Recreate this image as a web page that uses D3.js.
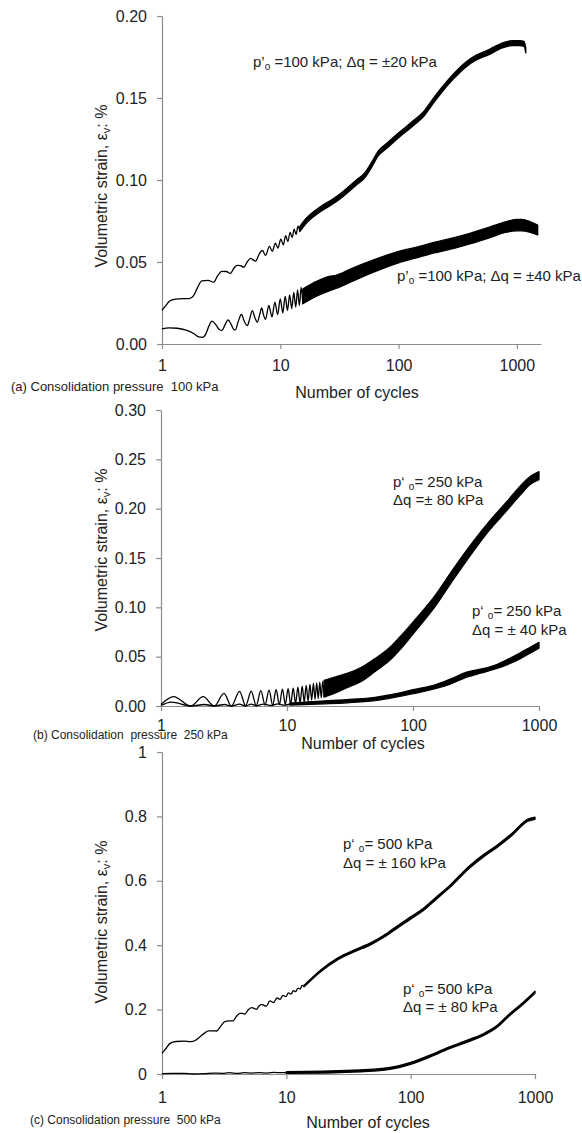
<!DOCTYPE html>
<html>
<head>
<meta charset="utf-8">
<script src="https://cdnjs.cloudflare.com/ajax/libs/d3/7.8.5/d3.min.js"></script>
<style>
  body { margin: 0; background: #fff; }
  svg { display: block; font-family: "Liberation Sans", Arial, sans-serif; }
</style>
</head>
<body>
<svg width="582" height="1133"></svg>
<script>
(function () {

  // ---- tick values and labels ----
  var xTicks = [1, 10, 100, 1000]
  var yTicksA = [0, 0.05, 0.10, 0.15, 0.20]
  var yLabelsA = ['0.00', '0.05', '0.10', '0.15', '0.20']
  var yTicksB = [0, 0.05, 0.10, 0.15, 0.20, 0.25, 0.30]
  var yLabelsB = ['0.00', '0.05', '0.10', '0.15', '0.20', '0.25', '0.30']
  var yTicksC = [0, 0.2, 0.4, 0.6, 0.8, 1]
  var yLabelsC = ['0', '0.2', '0.4', '0.6', '0.8', '1']

  // ---- (a) 100 kPa ----
  // early cycles: [N, strain %]; later the trace is a dense band: [N, low, high]
  var a20Line = [
    [1, 0.0205], [1.08, 0.0235], [1.16, 0.0262], [1.3, 0.0274], [1.5, 0.0277], [1.7, 0.0277],
    [1.85, 0.0295], [2.0, 0.0345], [2.17, 0.0385], [2.45, 0.0388], [2.73, 0.0377], [2.95, 0.0415],
    [3.2, 0.0443], [3.5, 0.0442], [3.78, 0.0430], [4.05, 0.0462], [4.32, 0.0480], [4.6, 0.0478],
    [4.92, 0.0468], [5.25, 0.0500], [5.6, 0.0522], [5.9, 0.0513], [6.2, 0.0505], [6.6, 0.0545],
    [7.07, 0.0570], [7.5, 0.0540], [8.1, 0.0595], [8.55, 0.0565], [9.1, 0.0615], [9.55, 0.0585],
    [10.1, 0.0640], [10.6, 0.0605], [11.1, 0.0660], [11.6, 0.0625], [12.1, 0.0680], [12.6, 0.0650],
    [13.1, 0.0700], [13.6, 0.0668], [14.1, 0.0718], [14.6, 0.0690]
  ]
  var a20Band = [
    [14.6, 0.0685, 0.0715], [16.5, 0.0735, 0.0765], [21.6, 0.0805, 0.0835],
    [28, 0.0855, 0.0885], [34, 0.090, 0.093], [44, 0.097, 0.100], [52, 0.1015, 0.1045],
    [60, 0.1085, 0.1115], [67, 0.1145, 0.1175], [80, 0.1195, 0.1225], [99, 0.1255, 0.1285],
    [130, 0.1325, 0.1355], [166, 0.1395, 0.1425], [200, 0.1475, 0.1505], [232, 0.1535, 0.1565],
    [290, 0.1615, 0.1645], [365, 0.1685, 0.1715], [450, 0.173, 0.176], [581, 0.1765, 0.1795],
    [750, 0.1805, 0.1835], [913, 0.182, 0.185], [1050, 0.182, 0.185], [1150, 0.1815, 0.1845],
    [1190, 0.1775, 0.1805]
  ]
  var a40Line = [
    [1, 0.0092], [1.15, 0.0098], [1.35, 0.0096], [1.6, 0.0084], [1.85, 0.0064], [2.05, 0.0043],
    [2.2, 0.0041], [2.35, 0.0062], [2.5, 0.0112], [2.64, 0.0139], [2.85, 0.0118], [3.05, 0.0088],
    [3.21, 0.0082], [3.4, 0.0115], [3.62, 0.0147], [3.85, 0.0118], [4.05, 0.0088], [4.17, 0.0086],
    [4.4, 0.0135], [4.7, 0.0180], [4.95, 0.0140], [5.26, 0.0112], [5.5, 0.0150], [5.8, 0.0204],
    [6.1, 0.0160], [6.4, 0.0133], [6.7, 0.0180], [6.97, 0.0220], [7.2, 0.0180], [7.5, 0.0150],
    [8.0, 0.0235], [8.5, 0.0165], [9.0, 0.0255], [9.5, 0.0180], [10, 0.0275], [10.5, 0.0190],
    [11, 0.0290], [11.5, 0.0205], [12, 0.0300], [12.5, 0.0215], [13, 0.0315], [13.5, 0.0225],
    [14, 0.0330], [14.5, 0.0235], [15, 0.0345], [15.5, 0.0245]
  ]
  var a40Band = [
    [15.5, 0.0245, 0.0335], [20, 0.029, 0.038], [25, 0.032, 0.041],
    [30, 0.034, 0.042], [40, 0.038, 0.046], [60, 0.0435, 0.051], [100, 0.0495, 0.0565],
    [150, 0.053, 0.0595], [200, 0.0555, 0.062], [300, 0.0585, 0.065], [400, 0.061, 0.0675],
    [600, 0.065, 0.0715], [800, 0.068, 0.0745], [1000, 0.069, 0.076], [1100, 0.069, 0.076],
    [1300, 0.068, 0.0745], [1500, 0.0665, 0.0725]
  ]

  // ---- (b) 250 kPa ----
  var b80Line = [
    [1, 0.0015], [1.26, 0.0095], [1.72, 0.0], [2.16, 0.0095], [2.65, 0.0], [3.16, 0.0128],
    [3.62, 0.0], [4.2, 0.0148], [4.7, 0.0003], [5.2, 0.0150], [5.7, 0.0005], [6.2, 0.0155],
    [6.7, 0.0008], [7.2, 0.0160], [7.7, 0.0010], [8.2, 0.0165], [8.7, 0.0012], [9.2, 0.0170],
    [9.7, 0.0015], [10.2, 0.0175], [10.7, 0.0020], [11.2, 0.0180], [11.7, 0.0025], [12.2, 0.0190],
    [12.7, 0.0030], [13.2, 0.0200], [13.7, 0.0040], [14.2, 0.0210], [14.7, 0.0050], [15.2, 0.0220],
    [15.7, 0.0060], [16.2, 0.0228], [16.7, 0.0068], [17.2, 0.0235], [17.7, 0.0075], [18.2, 0.0242],
    [18.7, 0.0082], [19.2, 0.0250], [19.7, 0.0090]
  ]
  var b80Band = [
    [19.7, 0.009, 0.026], [25, 0.014, 0.030], [30, 0.0185, 0.033],
    [40, 0.026, 0.040], [50, 0.035, 0.048], [65, 0.046, 0.059], [80, 0.058, 0.071],
    [100, 0.073, 0.085], [150, 0.101, 0.112], [200, 0.1245, 0.1355], [300, 0.1565, 0.1665],
    [400, 0.1775, 0.1865], [550, 0.1975, 0.2065], [700, 0.213, 0.222], [850, 0.2245, 0.2325],
    [1000, 0.2295, 0.2375]
  ]
  var b40Line = [
    [1, 0.0005], [1.2, 0.0040], [1.75, 0.0], [2.2, 0.0015], [2.65, 0.0], [3.2, 0.0015],
    [3.62, 0.0], [4.2, 0.0018], [4.7, 0.0], [5.2, 0.0020], [5.7, 0.0002], [6.5, 0.0020],
    [7.5, 0.0005], [8.5, 0.0022], [9.5, 0.0008], [10.5, 0.0020]
  ]
  var b40Band = [
    [10.5, 0.001, 0.003], [20, 0.0022, 0.0052], [30, 0.0032, 0.0065], [50, 0.0055, 0.0088],
    [70, 0.0085, 0.012], [100, 0.0125, 0.0165], [150, 0.0175, 0.0215], [200, 0.0225, 0.0275],
    [270, 0.0295, 0.0345], [350, 0.0335, 0.0375], [450, 0.0375, 0.0415], [550, 0.0415, 0.0465],
    [700, 0.0475, 0.0535], [850, 0.0535, 0.0595], [1000, 0.0585, 0.0645]
  ]

  // ---- (c) 500 kPa ----
  var c160Line = [
    [1, 0.064], [1.08, 0.080], [1.16, 0.095], [1.3, 0.101], [1.5, 0.102], [1.7, 0.1005],
    [1.85, 0.104], [2.0, 0.114], [2.2, 0.127], [2.36, 0.134], [2.55, 0.134], [2.75, 0.1335],
    [2.95, 0.147], [3.2, 0.163], [3.45, 0.165], [3.74, 0.165], [3.95, 0.178], [4.23, 0.188],
    [4.45, 0.188], [4.64, 0.186], [4.9, 0.198], [5.25, 0.206], [5.5, 0.204], [5.76, 0.201],
    [6.0, 0.210], [6.31, 0.2165], [6.6, 0.213], [6.9, 0.211], [7.37, 0.227], [7.9, 0.222],
    [8.4, 0.236], [8.9, 0.232], [9.4, 0.244], [9.9, 0.240], [10.4, 0.252], [10.9, 0.248],
    [11.4, 0.259], [11.9, 0.256], [12.4, 0.267], [12.9, 0.264], [13.4, 0.275], [13.9, 0.272]
  ]
  var c160Band = [
    [13.9, 0.2705, 0.2755], [19, 0.318, 0.324], [26, 0.355, 0.361],
    [35, 0.379, 0.385], [48, 0.402, 0.408], [60, 0.423, 0.429], [80, 0.456, 0.463],
    [100, 0.481, 0.488], [125, 0.506, 0.513], [160, 0.542, 0.549], [205, 0.578, 0.585],
    [298, 0.640, 0.647], [400, 0.679, 0.686], [489, 0.702, 0.709], [650, 0.740, 0.747],
    [876, 0.785, 0.792], [1000, 0.791, 0.798]
  ]
  var c80Line = [
    [1, 0.001], [1.2, 0.002], [1.5, 0.002], [1.8, 0.0], [2.2, 0.001], [2.6, 0.003], [3, 0.002],
    [3.5, 0.004], [4, 0.002], [4.6, 0.004], [5.2, 0.003], [6, 0.004], [7, 0.003], [8, 0.005],
    [9, 0.004], [10, 0.0045]
  ]
  var c80Band = [
    [10, 0.002, 0.007], [20, 0.003, 0.009], [30, 0.005, 0.011], [40, 0.007, 0.013],
    [50, 0.009, 0.015], [70, 0.015, 0.021], [100, 0.030, 0.036], [150, 0.056, 0.062],
    [200, 0.077, 0.083], [300, 0.102, 0.108], [400, 0.123, 0.129], [500, 0.146, 0.152],
    [600, 0.175, 0.181], [800, 0.216, 0.222], [1000, 0.251, 0.257]
  ]

  // layout of the three stacked panels
  var panels = [
    {
      top: 16, bottom: 344, left: 162, right: 541, xMax: 1600, yMax: 0.20,
      yTicks: yTicksA, yLabels: yLabelsA, xPad: 10.6,
      titleY: 186, xTitle: [357, 398],
      caption: ['(a) Consolidation pressure  100 kPa', 11, 391, 13],
      curves: [[a20Line, a20Band], [a40Line, a40Band]],
      notes: [
        { x: 253, y: 67, parts: ['p’', 'o', ' =100 kPa; Δq = ±20 kPa'] },
        { x: 397, y: 281, parts: ['p’', 'o', ' =100 kPa; Δq = ±40 kPa'] }
      ]
    },
    {
      top: 410, bottom: 706, left: 161, right: 539, xMax: 1000, yMax: 0.30,
      yTicks: yTicksB, yLabels: yLabelsB, xPad: 8.6,
      titleY: 550, xTitle: [363, 749],
      // the caption sits under the "1" tick label, as in the source figure
      caption: ['(b) Consolidation  pressure  250 kPa', 33, 739, 12],
      curves: [[b80Line, b80Band], [b40Line, b40Band]],
      notes: [
        { x: 393, y: 487, parts: ['p‘ ', 'o', '= 250 kPa'] },
        { x: 393, y: 505, parts: ['Δq =± 80 kPa'] },
        { x: 472, y: 616, parts: ['p‘ ', 'o', '= 250 kPa'] },
        { x: 472, y: 635, parts: ['Δq = ± 40 kPa'] }
      ]
    },
    {
      top: 752, bottom: 1074, left: 162, right: 535, xMax: 1000, yMax: 1,
      yTicks: yTicksC, yLabels: yLabelsC, xPad: 12.6,
      titleY: 922, xTitle: [368, 1128],
      caption: ['(c) Consolidation pressure  500 kPa', 30, 1124, 12],
      curves: [[c160Line, c160Band], [c80Line, c80Band]],
      notes: [
        { x: 343, y: 849, parts: ['p‘ ', 'o', '= 500 kPa'] },
        { x: 343, y: 868, parts: ['Δq = ± 160 kPa'] },
        { x: 403, y: 994, parts: ['p‘ ', 'o', '= 500 kPa'] },
        { x: 403, y: 1012, parts: ['Δq = ± 80 kPa'] }
      ]
    }
  ]

  var svg = d3.select('svg')
  var axisGrey = '#8c8c8c'

  panels.forEach(function (p) {
    var x = d3.scaleLog().domain([1, p.xMax]).range([p.left, p.right])
    var y = d3.scaleLinear().domain([0, p.yMax]).range([p.bottom, p.top])
    var g = svg.append('g')

    // axes
    var yAxis = g.append('g')
      .attr('transform', 'translate(' + p.left + ',0)')
      .call(d3.axisLeft(y)
        .tickValues(p.yTicks)
        .tickFormat(function (d, i) { return p.yLabels[i] })
        .tickSizeInner(5).tickSizeOuter(0).tickPadding(10))

    var xAxis = g.append('g')
      .attr('transform', 'translate(0,' + p.bottom + ')')
      .call(d3.axisBottom(x)
        .tickValues(xTicks)
        .tickFormat(d3.format('d'))
        .tickSizeInner(5).tickSizeOuter(0).tickPadding(p.xPad))

    ;[yAxis, xAxis].forEach(function (ax) {
      ax.select('.domain').attr('stroke', axisGrey).attr('stroke-width', 1.2)
      ax.selectAll('.tick line').attr('stroke', axisGrey).attr('stroke-width', 1.2)
      ax.selectAll('.tick text')
        .attr('fill', '#222')
        .style('font-size', '16px')
        .style('font-family', '"Liberation Sans", Arial, sans-serif')
    })

    // curves: a thin trace for the first cycles, then the dense band
    var line = d3.line()
      .x(function (d) { return x(d[0]) })
      .y(function (d) { return y(d[1]) })
      .curve(d3.curveMonotoneX)

    var band = d3.area()
      .x(function (d) { return x(d[0]) })
      .y0(function (d) { return y(d[1]) })
      .y1(function (d) { return y(d[2]) })
      .curve(d3.curveMonotoneX)

    p.curves.forEach(function (c) {
      g.append('path').datum(c[0])
        .attr('d', line)
        .attr('fill', 'none')
        .attr('stroke', '#000')
        .attr('stroke-width', 1.3)
      g.append('path').datum(c[1])
        .attr('d', band)
        .attr('fill', '#000')
        .attr('stroke', '#000')
        .attr('stroke-width', 1.3)
        .attr('stroke-linejoin', 'round')
    })

    // y title with subscript v
    var yt = g.append('text')
      .attr('transform', 'translate(107,' + p.titleY + ') rotate(-90)')
      .attr('text-anchor', 'middle')
      .attr('fill', '#222')
      .style('font-size', '16px')
    yt.append('tspan').text('Volumetric strain, ε')
    yt.append('tspan').attr('dy', 3).style('font-size', '11px').text('v')
    yt.append('tspan').attr('dy', -3).text(': %')

    // x title
    g.append('text')
      .attr('x', p.xTitle[0]).attr('y', p.xTitle[1])
      .attr('text-anchor', 'middle')
      .attr('fill', '#222')
      .style('font-size', '16px')
      .text('Number of cycles')

    // caption
    g.append('text')
      .attr('x', p.caption[1]).attr('y', p.caption[2])
      .attr('fill', '#222')
      .attr('xml:space', 'preserve')
      .style('font-size', p.caption[3] + 'px')
      .text(p.caption[0])

    // annotations
    p.notes.forEach(function (n) {
      var t = g.append('text')
        .attr('x', n.x).attr('y', n.y)
        .attr('fill', '#222')
        .attr('xml:space', 'preserve')
        .style('font-size', '15px')
      t.append('tspan').text(n.parts[0])
      if (n.parts.length > 1) {
        t.append('tspan').attr('dy', 3).style('font-size', '10px').text(n.parts[1])
        t.append('tspan').attr('dy', -3).text(n.parts[2])
      }
    })
  })

})()
</script>
</body>
</html>
